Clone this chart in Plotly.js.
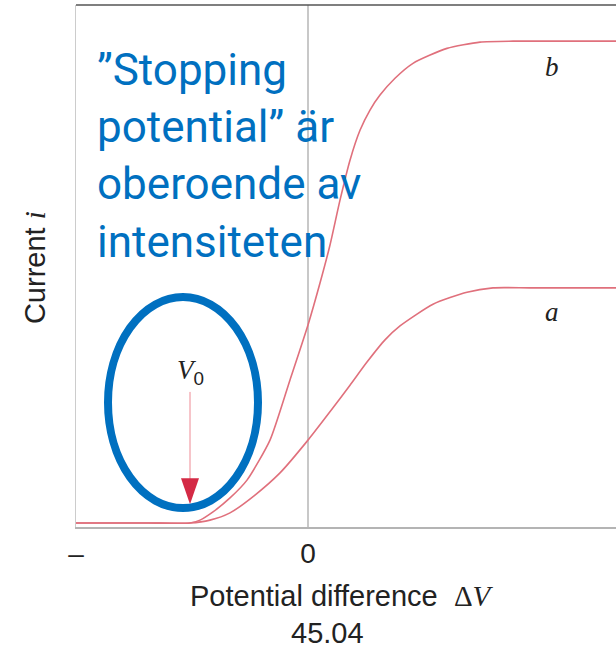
<!DOCTYPE html>
<html>
<head>
<meta charset="utf-8">
<script src="https://cdn.plot.ly/plotly-3.0.1.min.js"></script>
<style>html,body{margin:0;padding:0;background:#fff;}#chart{width:616px;height:654px;}</style>
</head>
<body>
<div id="chart"></div>
<script>
// Potential difference (arbitrary units, 0 at the gray line)
const xMin = -2.32;
const xMax = 3.08;
const V0 = -1.18;
// Curve b (high intensity)
const bX = [-2.32, -1.6, -1.18, -1.08, -0.95, -0.78, -0.61, -0.38, -0.18, 0.0, 0.12, 0.22, 0.32, 0.42, 0.52, 0.62, 0.72, 0.87, 1.05, 1.39, 1.72, 2.05, 3.08];
const bY = [0, 0, 0, 0.06, 0.23, 0.52, 0.89, 1.72, 2.97, 4.11, 4.98, 5.77, 6.70, 7.53, 8.15, 8.57, 8.88, 9.23, 9.54, 9.85, 9.98, 10.0, 10.0];
// Curve a (low intensity)
const aX = [-2.32, -1.6, -1.18, -0.98, -0.78, -0.53, -0.28, 0.0, 0.25, 0.42, 0.59, 0.77, 0.92, 1.25, 1.59, 1.85, 2.22, 3.08];
const aY = [0, 0, 0, 0.06, 0.21, 0.58, 1.04, 1.72, 2.39, 2.86, 3.34, 3.80, 4.09, 4.54, 4.79, 4.88, 4.88, 4.88];
const tickVals = [xMin, 0];
const tickText = ['\u2013', '0'];
const curveLabels = ['b', 'a'];
const curveLabelY = [9.46, 4.38];
const xTitle = 'Potential difference  <span style="font-family:Liberation Serif">\u0394<i>V</i></span>';
const yTitle = 'Current <i style="font-family:Liberation Serif">i</i>';
const note = '\u201DStopping<br>potential\u201D \u00E4r<br>oberoende av<br>intensiteten';
const pageNo = '45.04';

const red = '#e0707c';
const traces = [
  {x: bX, y: bY, mode: 'lines', line: {color: red, width: 1.6, shape: 'spline', smoothing: 0.6}, hoverinfo: 'skip'},
  {x: aX, y: aY, mode: 'lines', line: {color: red, width: 1.6, shape: 'spline', smoothing: 0.6}, hoverinfo: 'skip'}
];

const sans = 'Liberation Sans, Arial, sans-serif';
const layout = {
  width: 616, height: 654,
  margin: {l: 76, r: 0, t: 5, b: 127},
  paper_bgcolor: '#fff', plot_bgcolor: '#fff',
  showlegend: false,
  xaxis: {
    range: [xMin, xMax], showgrid: false,
    zeroline: true, zerolinecolor: '#c8c8c8', zerolinewidth: 1.5,
    showline: true, linecolor: '#b4b4b4', linewidth: 2,
    tickmode: 'array', tickvals: tickVals, ticktext: tickText, ticks: '',
    tickfont: {family: sans, size: 28, color: '#222'}
  },
  yaxis: {
    range: [-0.083, 10.75], showgrid: false, zeroline: false,
    showline: true, linecolor: '#cccccc', linewidth: 1.5,
    showticklabels: false, ticks: ''
  },
  shapes: [
    {type: 'line', xref: 'paper', yref: 'paper', x0: 0, x1: 1, y0: 1, y1: 1, line: {color: '#555', width: 1.5}},
    {type: 'line', xref: 'x', yref: 'y', x0: V0, x1: V0, y0: 2.72, y1: 0.9, line: {color: '#ee8a94', width: 1}},
    {type: 'path', xref: 'x', yref: 'y',
     path: 'M ' + (V0 - 0.09) + ',0.93 L ' + (V0 + 0.09) + ',0.93 L ' + V0 + ',0.39 Z',
     fillcolor: '#d42a45', line: {width: 0}},
    {type: 'circle', xref: 'x', yref: 'y', x0: -2.0, x1: -0.5, y0: 0.31, y1: 4.69,
     line: {color: '#0070C0', width: 8}}
  ],
  annotations: [
    {xref: 'paper', yref: 'paper', x: 0.0352, y: 0.93, xanchor: 'left', yanchor: 'top', align: 'left',
     text: note, showarrow: false, font: {family: 'Roboto, sans-serif', size: 44, color: '#0070C0'}},
    {xref: 'x', yref: 'y', x: V0, y: 3.13, text: '<i style="font-family:Liberation Serif">V</i><sub>0</sub>',
     showarrow: false, font: {family: sans, size: 27, color: '#222'}},
    {xref: 'x', yref: 'y', x: 2.44, y: curveLabelY[0], text: '<i>' + curveLabels[0] + '</i>',
     showarrow: false, font: {family: 'Liberation Serif, serif', size: 27, color: '#222'}},
    {xref: 'x', yref: 'y', x: 2.44, y: curveLabelY[1], text: '<i>' + curveLabels[1] + '</i>',
     showarrow: false, font: {family: 'Liberation Serif, serif', size: 27, color: '#222'}},
    {xref: 'paper', yref: 'paper', x: 0.4926, y: -0.132, xanchor: 'center', yanchor: 'middle',
     text: xTitle, showarrow: false, font: {family: sans, size: 29, color: '#222'}},
    {xref: 'paper', yref: 'paper', x: 0.465, y: -0.203, xanchor: 'center', yanchor: 'middle',
     text: pageNo, showarrow: false, font: {family: sans, size: 29, color: '#222'}},
    {xref: 'paper', yref: 'paper', x: -0.0759, y: 0.496, xanchor: 'center', yanchor: 'middle', textangle: -90,
     text: yTitle, showarrow: false, font: {family: sans, size: 29, color: '#222'}}
  ]
};
Plotly.newPlot('chart', traces, layout, {displayModeBar: false, staticPlot: true});
</script>
</body>
</html>
